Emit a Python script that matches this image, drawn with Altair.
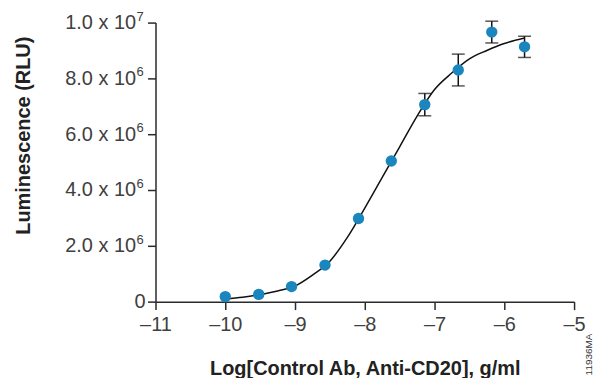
import altair as alt
import pandas as pd

# Measured points (log g/ml, RLU)
log_conc = [-10.0, -9.52, -9.05, -8.57, -8.09, -7.62, -7.14, -6.66, -6.18, -5.71]
rlu = [0.18e6, 0.26e6, 0.54e6, 1.31e6, 2.98e6, 5.04e6, 7.06e6, 8.30e6, 9.66e6, 9.13e6]
rlu_err = [0, 0, 0, 0, 0, 0, 0.40e6, 0.57e6, 0.39e6, 0.38e6]

# Fitted curve
curve_x = [-10.0, -9.75, -9.5, -9.25, -9.0, -8.75, -8.5, -8.25, -8.0, -7.75, -7.5,
           -7.25, -7.0, -6.75, -6.5, -6.25, -6.0, -5.71]
curve_y = [0.10e6, 0.16e6, 0.25e6, 0.38e6, 0.56e6, 0.95e6, 1.45e6, 2.30e6, 3.35e6, 4.45e6, 5.55e6,
           6.65e6, 7.60e6, 8.20e6, 8.70e6, 9.00e6, 9.25e6, 9.45e6]

y_tick_values = [0, 2e6, 4e6, 6e6, 8e6, 1e7]
y_tick_mantissa = ["0", "2.0 x 10", "4.0 x 10", "6.0 x 10", "8.0 x 10", "1.0 x 10"]
y_tick_exponent = ["", "6", "6", "6", "6", "7"]
x_tick_values = [-11, -10, -9, -8, -7, -6, -5]

pts = pd.DataFrame({"x": log_conc, "y": rlu, "err": rlu_err})
pts["lo"] = pts["y"] - pts["err"]
pts["hi"] = pts["y"] + pts["err"]
bars = pts[pts["err"] > 0]
curve = pd.DataFrame({"x": curve_x, "y": curve_y})
ticks_df = pd.DataFrame({"v": y_tick_values, "m": y_tick_mantissa, "e": y_tick_exponent})
sup = ticks_df[ticks_df["e"] != ""]
plain = ticks_df[ticks_df["e"] == ""]

label_font = "Liberation Sans"
title_font = "Liberation Sans"
axis_col = "#2a2a2a"
label_col = "#404040"

vals_js = "[" + ",".join(str(int(v)) for v in y_tick_values) + "]"
labels_js = "[" + ",".join("'" + (s if e != "" else "") + "'"
                           for s, e in zip(y_tick_mantissa, y_tick_exponent)) + "]"
y_label_expr = labels_js + "[indexof(" + vals_js + ", datum.value)]"

xs = alt.Scale(domain=[-11, -5], nice=False, zero=False)
ys = alt.Scale(domain=[0, 1e7], nice=False)

x_axis = alt.Axis(values=x_tick_values, title="Log[Control Ab, Anti-CD20], g/ml",
                  labelExpr="datum.value < 0 ? '–' + abs(datum.value) : datum.value",
                  labelFlush=False,
                  grid=False, tickSize=8, labelPadding=5, labelFontSize=20,
                  labelFont=label_font, labelColor=label_col,
                  titleFont=title_font, titleFontSize=20, titleFontWeight="bold",
                  titleColor="#222", titleY=67, titleBaseline="middle",
                  domainColor=axis_col, tickColor=axis_col, domainWidth=1.5, tickWidth=1.5)
y_axis = alt.Axis(values=y_tick_values, title="Luminescence (RLU)", labelExpr=y_label_expr,
                  labelFlush=False,
                  grid=False, tickSize=8, labelPadding=12, labelFontSize=20,
                  labelFont=label_font, labelColor=label_col,
                  titleFont=title_font, titleFontSize=20, titleFontWeight="bold",
                  titleColor="#222", titleX=-132, titleY=113, titleBaseline="middle",
                  domainColor=axis_col, tickColor=axis_col, domainWidth=1.5, tickWidth=1.5)

line = alt.Chart(curve).mark_line(color="#111", strokeWidth=1.5, interpolate="monotone").encode(
    x=alt.X("x:Q", scale=xs, axis=x_axis),
    y=alt.Y("y:Q", scale=ys, axis=y_axis),
)

err_rule = alt.Chart(bars).mark_rule(color="#111", strokeWidth=1.5).encode(
    x="x:Q", y="lo:Q", y2="hi:Q")
caps_lo = alt.Chart(bars).mark_tick(color="#111", thickness=1.5, size=13, orient="horizontal").encode(
    x="x:Q", y="lo:Q")
caps_hi = alt.Chart(bars).mark_tick(color="#111", thickness=1.5, size=13, orient="horizontal").encode(
    x="x:Q", y="hi:Q")

points = alt.Chart(pts).mark_circle(color="#1a86bd", opacity=1, size=130).encode(
    x="x:Q", y="y:Q")

superscripts = alt.Chart(sup).mark_text(
    font=label_font, fontSize=13, color=label_col, align="left", baseline="middle", dy=-6
).encode(text="e:N", y=alt.Y("v:Q", scale=ys), x=alt.value(-19))

zero_label = alt.Chart(plain).mark_text(
    font=label_font, fontSize=20, color=label_col, align="right", baseline="middle"
).encode(text="m:N", y=alt.Y("v:Q", scale=ys), x=alt.value(-10))

stamp = alt.Chart(pd.DataFrame({"t": ["11936MA"]})).mark_text(
    angle=270, fontSize=10, font=label_font, color="#333", align="center", baseline="middle"
).encode(text="t:N", x=alt.value(435), y=alt.value(333))

chart = (line + err_rule + caps_lo + caps_hi + points + superscripts + zero_label + stamp).properties(
    width=420, height=280,
    autosize=alt.AutoSizeParams(type="none"),
    padding={"left": 148, "top": 14, "right": 22, "bottom": 76},
).configure_view(stroke=None)

chart.save("out.html", embed_options={"renderer": "svg", "actions": False})
